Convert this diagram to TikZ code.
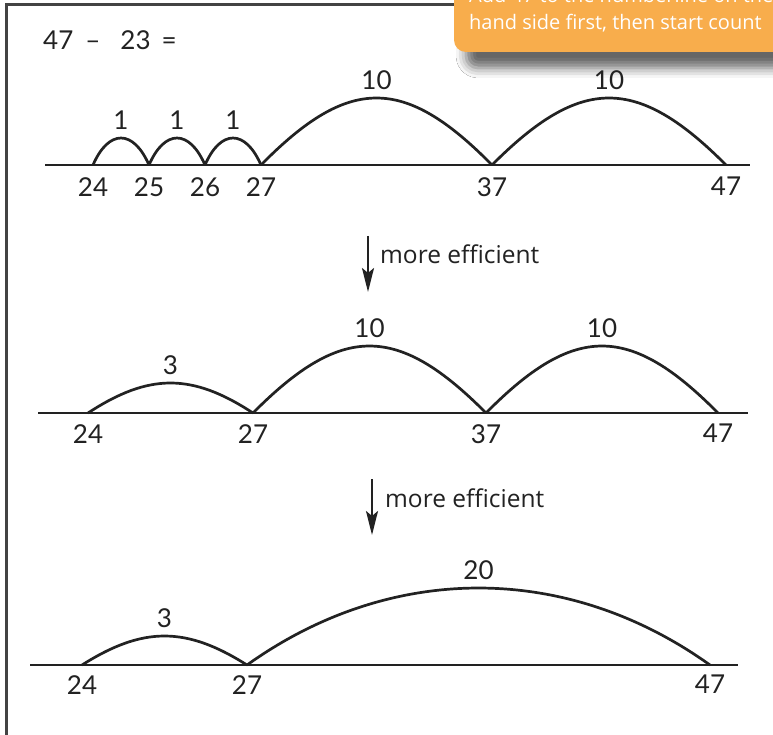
\documentclass[tikz,border=0pt]{standalone}
\usepackage{fontspec}
\setmainfont{Open Sans}
\newfontfamily\handfont{Lato}
\usetikzlibrary{calc,positioning,arrows.meta,shadows.blur}

\definecolor{tiporange}{HTML}{F8AD4C}
\definecolor{ink}{HTML}{222222}

\tikzset{
  numline/.style={line width=2.8pt, draw=ink},
  hopline/.style={line width=2.7pt, draw=ink},
  numlabel/.style={font=\handfont\fontsize{26}{28}\selectfont, inner sep=0pt, text=ink},
  efficient/.style={-{Stealth[length=24pt,width=12pt,inset=5pt]}, line width=2.4pt, draw=ink},
  effnote/.style={font=\fontsize{24.5}{28}\selectfont, anchor=base west, inner sep=0pt, text=ink},
  tiptext/.style={font=\fontsize{20}{24}\selectfont, anchor=base west, inner sep=0pt, text=white}
}

% a jump over the line: from, to, height, control fraction, label
\newcommand{\hop}[5]{%
  \draw[hopline] (#1) .. controls ($(#1)!#4!(#2)+(0,-1.333*#3)$) and ($(#2)!#4!(#1)+(0,-1.333*#3)$) .. (#2);
  \node[numlabel, anchor=south] (hop-#1-#2) at ($(#1)!0.5!(#2)+(0,-#3-8)$) {#5};}

\begin{document}
\begin{tikzpicture}[x=1pt, y=-1pt]
  \clip (0,0) rectangle (773,735);
  \fill[white] (0,0) rectangle (773,735);

  % frame
  \draw[line width=3pt, draw=ink!85] (6,745) -- (6,5) -- (480,5);

  % tip box, cut by the page edge
  \path[fill=tiporange, rounded corners=12pt,
        blur shadow={shadow xshift=12pt, shadow yshift=-16pt, shadow blur radius=10pt, shadow opacity=60}]
        (454,-40) rectangle (840,52);
  \node[tiptext] (tip1) at (469,3) {Add 47 to the numberline on the};
  \node[tiptext] (tip2) at (469,30) {hand side first, then start count};

  \node[numlabel, anchor=base west] (sum) at (43,50) {47\hspace{12pt}–\hspace{20pt}23\hspace{11pt}=};

  % first line: ones, then tens
  \coordinate (a0) at (45,165);
  \coordinate (a1) at (750,165);
  \coordinate (a24) at (93,165);
  \coordinate (a25) at (149,165);
  \coordinate (a26) at (205,165);
  \coordinate (a27) at (261,165);
  \coordinate (a37) at (492,165);
  \coordinate (a47) at (726,165);
  \draw[numline] (a0) -- (a1);
  \hop{a24}{a25}{27}{0.28}{1}
  \hop{a25}{a26}{27}{0.28}{1}
  \hop{a26}{a27}{27}{0.28}{1}
  \hop{a27}{a37}{67}{0.38}{10}
  \hop{a37}{a47}{67}{0.38}{10}
  \foreach \n in {24,25,26,27,37,47}
    \node[numlabel, below=12pt of a\n] (la\n) {\n};

  \coordinate (e1top) at (368,236);
  \coordinate (e1tip) at (368,292);
  \draw[efficient] (e1top) -- (e1tip);
  \node[effnote] (e1note) at (380,263) {more efficient};

  % second line
  \coordinate (b0) at (38,413);
  \coordinate (b1) at (748,413);
  \coordinate (b24) at (88,413);
  \coordinate (b27) at (253,413);
  \coordinate (b37) at (486,413);
  \coordinate (b47) at (718,413);
  \draw[numline] (b0) -- (b1);
  \hop{b24}{b27}{30}{0.37}{3}
  \hop{b27}{b37}{67}{0.38}{10}
  \hop{b37}{b47}{67}{0.38}{10}
  \foreach \n in {24,27,37,47}
    \node[numlabel, below=11pt of b\n] (lb\n) {\n};

  \coordinate (e2top) at (372,479);
  \coordinate (e2tip) at (372,535);
  \draw[efficient] (e2top) -- (e2tip);
  \node[effnote] (e2note) at (385,507) {more efficient};

  % third line
  \coordinate (c0) at (30,665);
  \coordinate (c1) at (738,665);
  \coordinate (c24) at (82,665);
  \coordinate (c27) at (247,665);
  \coordinate (c47) at (710,665);
  \draw[numline] (c0) -- (c1);
  \hop{c24}{c27}{29}{0.37}{3}
  \hop{c27}{c47}{77}{0.31}{20}
  \foreach \n in {24,27,47}
    \node[numlabel, below=10pt of c\n] (lc\n) {\n};
\end{tikzpicture}
\end{document}
